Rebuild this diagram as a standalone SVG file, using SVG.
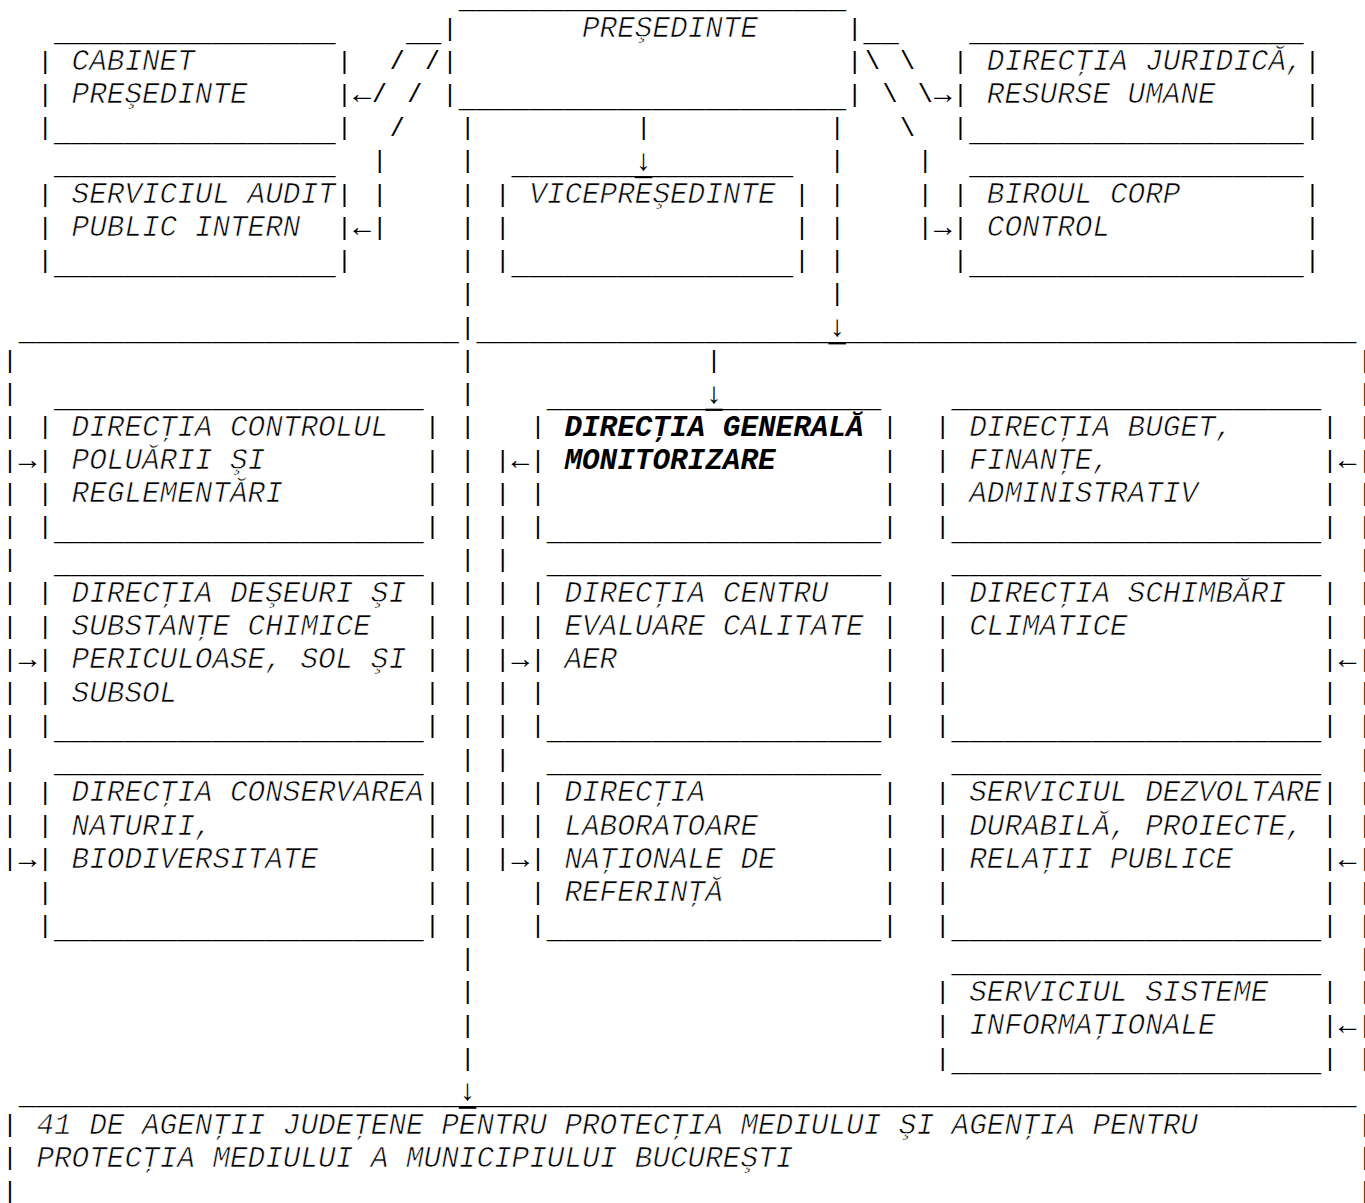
<svg xmlns="http://www.w3.org/2000/svg" width="1365" height="1203" viewBox="0 0 1365 1203" xml:space="preserve">
<style>
.m{font-family:"Liberation Mono","Courier New","DejaVu Sans Mono",monospace;font-size:29.333px;fill:#000;white-space:pre}
.i{font-style:italic;stroke:#fff;stroke-width:0.7px}
.b{font-weight:bold;stroke:none}
.u{transform:translate(0px,4px)}
.v{font-family:"Liberation Mono","Courier New",monospace;font-size:24px;fill:#000;text-anchor:middle;transform:translate(0px,-1.5px)}
.s{font-family:"Liberation Mono","Courier New",monospace;font-size:25px;fill:#000;text-anchor:middle;transform:translate(0px,-1px)}
</style>
<rect width="1365" height="1203" fill="#fff"/>
<g id="connectors">
<g id="c-pres-cabinet">
<text class="m u" x="406" y="37" textLength="35.2" lengthAdjust="spacingAndGlyphs">__</text>
<text class="s" x="397.2 379.6" y="70.24 103.47">//</text>
<text class="m" x="353.2" y="103.47">←</text>
</g>
<g id="c-pres-audit">
<text class="s" x="432.4 414.8 397.2" y="70.24 103.47 136.70">///</text>
<text class="v" x="379.6 379.6 379.6" y="169.94 203.17 236.40">|||</text>
<text class="m" x="353.2" y="236.40">←</text>
</g>
<g id="c-pres-juridica">
<text class="m u" x="863.6" y="37" textLength="35.2" lengthAdjust="spacingAndGlyphs">__</text>
<text class="s" x="907.6 925.2" y="70.24 103.47">\\</text>
<text class="m" x="934" y="103.47">→</text>
</g>
<g id="c-pres-corp">
<text class="s" x="872.4 890 907.6" y="70.24 103.47 136.70">\\\</text>
<text class="v" x="925.2 925.2 925.2" y="169.94 203.17 236.40">|||</text>
<text class="m" x="934" y="236.40">→</text>
</g>
<g id="c-pres-vice">
<text class="v" x="643.6" y="136.70">|</text>
<text class="m" x="634.8" y="169.94">↓</text>
<rect x="634.8" y="176" width="17.6" height="2.2" fill="#000"/>
</g>
<g id="c-pres-bus">
<text class="v" x="837.2 837.2 837.2 837.2 837.2 837.2" y="136.70 169.94 203.17 236.40 269.63 302.87">||||||</text>
<text class="m" x="828.4" y="336.10">↓</text>
<rect x="828.4" y="342.2" width="17.6" height="2.2" fill="#000"/>
</g>
<g id="c-pres-agentii">
<text class="v" x="467.6 467.6 467.6 467.6 467.6 467.6 467.6 467.6 467.6 467.6 467.6 467.6 467.6 467.6 467.6 467.6 467.6 467.6 467.6 467.6 467.6 467.6 467.6 467.6 467.6 467.6 467.6 467.6 467.6" y="136.70 169.94 203.17 236.40 269.63 302.87 336.10 369.33 402.57 435.80 469.03 502.27 535.50 568.73 601.97 635.20 668.43 701.66 734.90 768.13 801.36 834.60 867.83 901.06 934.30 967.53 1000.76 1034.00 1067.23">|||||||||||||||||||||||||||||</text>
<text class="m" x="458.8" y="1100.46">↓</text>
<rect x="458.8" y="1106.6" width="17.6" height="2.2" fill="#000"/>
</g>
<g id="c-bus">
<text class="m u" x="18.8" y="336.10" textLength="440" lengthAdjust="spacingAndGlyphs">_________________________</text>
<text class="m u" x="476.4" y="336.10" textLength="880" lengthAdjust="spacingAndGlyphs">__________________________________________________</text>
</g>
<g id="c-bus-left">
<text class="v" x="10 10 10 10 10 10 10 10 10 10 10 10 10 10 10 10" y="369.33 402.57 435.80 469.03 502.27 535.50 568.73 601.97 635.20 668.43 701.66 734.90 768.13 801.36 834.60 867.83">||||||||||||||||</text>
<text class="m" x="18.8 18.8 18.8" y="469.03 668.43 867.83">→→→</text>
</g>
<g id="c-bus-dg">
<text class="v" x="714" y="369.33">|</text>
<text class="m" x="705.2" y="402.57">↓</text>
<rect x="705.2" y="408.7" width="17.6" height="2.2" fill="#000"/>
</g>
<g id="c-dg-subs">
<text class="v" x="502.8 502.8 502.8 502.8 502.8 502.8 502.8 502.8 502.8 502.8 502.8 502.8 502.8" y="469.03 502.27 535.50 568.73 601.97 635.20 668.43 701.66 734.90 768.13 801.36 834.60 867.83">|||||||||||||</text>
<text class="m" x="511.6 511.6 511.6" y="469.03 668.43 867.83">←→→</text>
</g>
<g id="c-bus-right">
<text class="v" x="1365.2 1365.2 1365.2 1365.2 1365.2 1365.2 1365.2 1365.2 1365.2 1365.2 1365.2 1365.2 1365.2 1365.2 1365.2 1365.2 1365.2 1365.2 1365.2 1365.2 1365.2 1365.2" y="369.33 402.57 435.80 469.03 502.27 535.50 568.73 601.97 635.20 668.43 701.66 734.90 768.13 801.36 834.60 867.83 901.06 934.30 967.53 1000.76 1034.00 1067.23">||||||||||||||||||||||</text>
<text class="m" x="1338.8 1338.8 1338.8 1338.8" y="469.03 668.43 867.83 1034.00">←←←←</text>
</g>
</g>

<g id="n-presedinte">
<text class="m u" x="458.8" y="3.77" textLength="387.2" lengthAdjust="spacingAndGlyphs">______________________</text>
<text class="v" x="450 854.8 450 854.8 450 854.8" y="37 37 70.24 70.24 103.47 103.47">||||||</text>
<text class="m u" x="458.8" y="103.47" textLength="387.2" lengthAdjust="spacingAndGlyphs">______________________</text>
<text class="m i" x="582" y="37">PREŞEDINTE</text>
</g>

<g id="n-cabinet">
<text class="m u" x="54" y="37" textLength="281.6" lengthAdjust="spacingAndGlyphs">________________</text>
<text class="v" x="45.2 344.4 45.2 344.4 45.2 344.4" y="70.24 70.24 103.47 103.47 136.70 136.70">||||||</text>
<text class="m u" x="54" y="136.70" textLength="281.6" lengthAdjust="spacingAndGlyphs">________________</text>
<text class="m i" x="71.6" y="70.24">CABINET</text>
<text class="m i" x="71.6" y="103.47">PREŞEDINTE</text>
</g>

<g id="n-audit">
<text class="m u" x="54" y="169.94" textLength="281.6" lengthAdjust="spacingAndGlyphs">________________</text>
<text class="v" x="45.2 344.4 45.2 344.4 45.2 344.4" y="203.17 203.17 236.40 236.40 269.63 269.63">||||||</text>
<text class="m u" x="54" y="269.63" textLength="281.6" lengthAdjust="spacingAndGlyphs">________________</text>
<text class="m i" x="71.6" y="203.17">SERVICIUL AUDIT</text>
<text class="m i" x="71.6" y="236.40">PUBLIC INTERN</text>
</g>

<g id="n-juridica">
<text class="m u" x="969.2" y="37" textLength="334.4" lengthAdjust="spacingAndGlyphs">___________________</text>
<text class="v" x="960.4 1312.4 960.4 1312.4 960.4 1312.4" y="70.24 70.24 103.47 103.47 136.70 136.70">||||||</text>
<text class="m u" x="969.2" y="136.70" textLength="334.4" lengthAdjust="spacingAndGlyphs">___________________</text>
<text class="m i" x="986.8" y="70.24">DIRECŢIA JURIDICĂ,</text>
<text class="m i" x="986.8" y="103.47">RESURSE UMANE</text>
</g>

<g id="n-corp-control">
<text class="m u" x="969.2" y="169.94" textLength="334.4" lengthAdjust="spacingAndGlyphs">___________________</text>
<text class="v" x="960.4 1312.4 960.4 1312.4 960.4 1312.4" y="203.17 203.17 236.40 236.40 269.63 269.63">||||||</text>
<text class="m u" x="969.2" y="269.63" textLength="334.4" lengthAdjust="spacingAndGlyphs">___________________</text>
<text class="m i" x="986.8" y="203.17">BIROUL CORP</text>
<text class="m i" x="986.8" y="236.40">CONTROL</text>
</g>

<g id="n-vicepresedinte">
<text class="m u" x="511.6" y="169.94" textLength="281.6" lengthAdjust="spacingAndGlyphs">________________</text>
<text class="v" x="502.8 802 502.8 802 502.8 802" y="203.17 203.17 236.40 236.40 269.63 269.63">||||||</text>
<text class="m u" x="511.6" y="269.63" textLength="281.6" lengthAdjust="spacingAndGlyphs">________________</text>
<text class="m i" x="529.2" y="203.17">VICEPREŞEDINTE</text>
</g>

<g id="n-controlul-poluarii">
<text class="m u" x="54" y="402.57" textLength="369.6" lengthAdjust="spacingAndGlyphs">_____________________</text>
<text class="v" x="45.2 432.4 45.2 432.4 45.2 432.4 45.2 432.4" y="435.80 435.80 469.03 469.03 502.27 502.27 535.50 535.50">||||||||</text>
<text class="m u" x="54" y="535.50" textLength="369.6" lengthAdjust="spacingAndGlyphs">_____________________</text>
<text class="m i" x="71.6" y="435.80">DIRECŢIA CONTROLUL</text>
<text class="m i" x="71.6" y="469.03">POLUĂRII ŞI</text>
<text class="m i" x="71.6" y="502.27">REGLEMENTĂRI</text>
</g>

<g id="n-deseuri">
<text class="m u" x="54" y="568.73" textLength="369.6" lengthAdjust="spacingAndGlyphs">_____________________</text>
<text class="v" x="45.2 432.4 45.2 432.4 45.2 432.4 45.2 432.4 45.2 432.4" y="601.97 601.97 635.20 635.20 668.43 668.43 701.66 701.66 734.90 734.90">||||||||||</text>
<text class="m u" x="54" y="734.90" textLength="369.6" lengthAdjust="spacingAndGlyphs">_____________________</text>
<text class="m i" x="71.6" y="601.97">DIRECŢIA DEŞEURI ŞI</text>
<text class="m i" x="71.6" y="635.20">SUBSTANŢE CHIMICE</text>
<text class="m i" x="71.6" y="668.43">PERICULOASE, SOL ŞI</text>
<text class="m i" x="71.6" y="701.66">SUBSOL</text>
</g>

<g id="n-conservarea">
<text class="m u" x="54" y="768.13" textLength="369.6" lengthAdjust="spacingAndGlyphs">_____________________</text>
<text class="v" x="45.2 432.4 45.2 432.4 45.2 432.4 45.2 432.4 45.2 432.4" y="801.36 801.36 834.60 834.60 867.83 867.83 901.06 901.06 934.30 934.30">||||||||||</text>
<text class="m u" x="54" y="934.30" textLength="369.6" lengthAdjust="spacingAndGlyphs">_____________________</text>
<text class="m i" x="71.6" y="801.36">DIRECŢIA CONSERVAREA</text>
<text class="m i" x="71.6" y="834.60">NATURII,</text>
<text class="m i" x="71.6" y="867.83">BIODIVERSITATE</text>
</g>

<g id="n-dg-monitorizare">
<text class="m u" x="546.8" y="402.57" textLength="334.4" lengthAdjust="spacingAndGlyphs">___________________</text>
<text class="v" x="538 890 538 890 538 890 538 890" y="435.80 435.80 469.03 469.03 502.27 502.27 535.50 535.50">||||||||</text>
<text class="m u" x="546.8" y="535.50" textLength="334.4" lengthAdjust="spacingAndGlyphs">___________________</text>
<text class="m i b" x="564.4" y="435.80">DIRECŢIA GENERALĂ</text>
<text class="m i b" x="564.4" y="469.03">MONITORIZARE</text>
</g>

<g id="n-calitate-aer">
<text class="m u" x="546.8" y="568.73" textLength="334.4" lengthAdjust="spacingAndGlyphs">___________________</text>
<text class="v" x="538 890 538 890 538 890 538 890 538 890" y="601.97 601.97 635.20 635.20 668.43 668.43 701.66 701.66 734.90 734.90">||||||||||</text>
<text class="m u" x="546.8" y="734.90" textLength="334.4" lengthAdjust="spacingAndGlyphs">___________________</text>
<text class="m i" x="564.4" y="601.97">DIRECŢIA CENTRU</text>
<text class="m i" x="564.4" y="635.20">EVALUARE CALITATE</text>
<text class="m i" x="564.4" y="668.43">AER</text>
</g>

<g id="n-laboratoare">
<text class="m u" x="546.8" y="768.13" textLength="334.4" lengthAdjust="spacingAndGlyphs">___________________</text>
<text class="v" x="538 890 538 890 538 890 538 890 538 890" y="801.36 801.36 834.60 834.60 867.83 867.83 901.06 901.06 934.30 934.30">||||||||||</text>
<text class="m u" x="546.8" y="934.30" textLength="334.4" lengthAdjust="spacingAndGlyphs">___________________</text>
<text class="m i" x="564.4" y="801.36">DIRECŢIA</text>
<text class="m i" x="564.4" y="834.60">LABORATOARE</text>
<text class="m i" x="564.4" y="867.83">NAŢIONALE DE</text>
<text class="m i" x="564.4" y="901.06">REFERINŢĂ</text>
</g>

<g id="n-buget">
<text class="m u" x="951.6" y="402.57" textLength="369.6" lengthAdjust="spacingAndGlyphs">_____________________</text>
<text class="v" x="942.8 1330 942.8 1330 942.8 1330 942.8 1330" y="435.80 435.80 469.03 469.03 502.27 502.27 535.50 535.50">||||||||</text>
<text class="m u" x="951.6" y="535.50" textLength="369.6" lengthAdjust="spacingAndGlyphs">_____________________</text>
<text class="m i" x="969.2" y="435.80">DIRECŢIA BUGET,</text>
<text class="m i" x="969.2" y="469.03">FINANŢE,</text>
<text class="m i" x="969.2" y="502.27">ADMINISTRATIV</text>
</g>

<g id="n-schimbari-climatice">
<text class="m u" x="951.6" y="568.73" textLength="369.6" lengthAdjust="spacingAndGlyphs">_____________________</text>
<text class="v" x="942.8 1330 942.8 1330 942.8 1330 942.8 1330 942.8 1330" y="601.97 601.97 635.20 635.20 668.43 668.43 701.66 701.66 734.90 734.90">||||||||||</text>
<text class="m u" x="951.6" y="734.90" textLength="369.6" lengthAdjust="spacingAndGlyphs">_____________________</text>
<text class="m i" x="969.2" y="601.97">DIRECŢIA SCHIMBĂRI</text>
<text class="m i" x="969.2" y="635.20">CLIMATICE</text>
</g>

<g id="n-dezvoltare">
<text class="m u" x="951.6" y="768.13" textLength="369.6" lengthAdjust="spacingAndGlyphs">_____________________</text>
<text class="v" x="942.8 1330 942.8 1330 942.8 1330 942.8 1330 942.8 1330" y="801.36 801.36 834.60 834.60 867.83 867.83 901.06 901.06 934.30 934.30">||||||||||</text>
<text class="m u" x="951.6" y="934.30" textLength="369.6" lengthAdjust="spacingAndGlyphs">_____________________</text>
<text class="m i" x="969.2" y="801.36">SERVICIUL DEZVOLTARE</text>
<text class="m i" x="969.2" y="834.60">DURABILĂ, PROIECTE,</text>
<text class="m i" x="969.2" y="867.83">RELAŢII PUBLICE</text>
</g>

<g id="n-sisteme">
<text class="m u" x="951.6" y="967.53" textLength="369.6" lengthAdjust="spacingAndGlyphs">_____________________</text>
<text class="v" x="942.8 1330 942.8 1330 942.8 1330" y="1000.76 1000.76 1034.00 1034.00 1067.23 1067.23">||||||</text>
<text class="m u" x="951.6" y="1067.23" textLength="369.6" lengthAdjust="spacingAndGlyphs">_____________________</text>
<text class="m i" x="969.2" y="1000.76">SERVICIUL SISTEME</text>
<text class="m i" x="969.2" y="1034.00">INFORMAŢIONALE</text>
</g>

<g id="n-agentii">
<text class="m u" x="18.8" y="1100.46" textLength="1337.6" lengthAdjust="spacingAndGlyphs">____________________________________________________________________________</text>
<text class="v" x="10 1365.2 10 1365.2 10 1365.2" y="1133.70 1133.70 1166.93 1166.93 1200.16 1200.16">||||||</text>
<text class="m i" x="36.4" y="1133.70">41 DE AGENŢII JUDEŢENE PENTRU PROTECŢIA MEDIULUI ŞI AGENŢIA PENTRU</text>
<text class="m i" x="36.4" y="1166.93">PROTECŢIA MEDIULUI A MUNICIPIULUI BUCUREŞTI</text>
</g>
</svg>
